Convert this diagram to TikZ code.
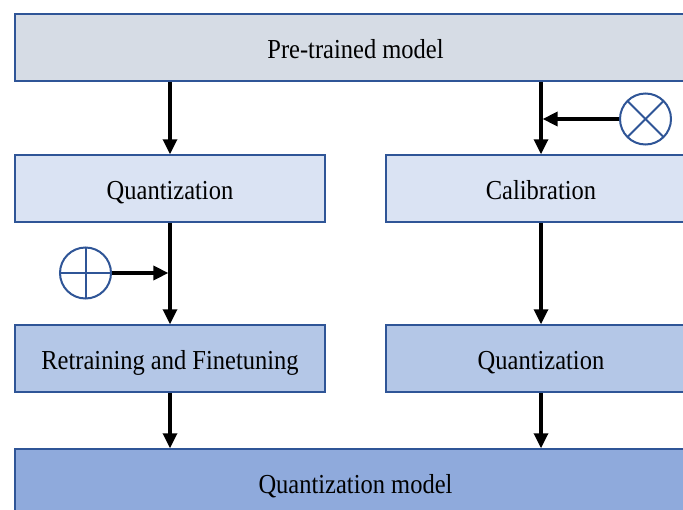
\documentclass[tikz,border=0pt]{standalone}
\usepackage{fontspec}
\setmainfont{Liberation Serif}
\usetikzlibrary{arrows.meta}
\definecolor{bd}{HTML}{2F5597}
\definecolor{f0}{HTML}{D6DCE5}
\definecolor{f1}{HTML}{DAE3F3}
\definecolor{f2}{HTML}{B4C7E7}
\definecolor{f3}{HTML}{8FAADC}
\newcommand{\lbl}[1]{\scalebox{1}[1.12]{#1}}
\tikzset{
  box/.style={draw=bd, line width=1.5pt, minimum height=67pt, inner sep=0pt,
    font=\fontsize{24.5}{28}\selectfont, text=black, text height=21pt, text depth=0pt},
  colbox/.style={box, minimum width=310pt},
  widebox/.style={box, minimum width=681pt},
  arr/.style={line width=3.3pt, -{Triangle[length=15pt,width=14pt]}},
  op/.style={circle, draw=bd, line width=2pt, minimum size=51pt, inner sep=0pt, fill=white},
}
\begin{document}
\begin{tikzpicture}[x=1pt,y=-1pt]
\useasboundingbox (0,0) rectangle (683,509);
\clip (0,0) rectangle (683,509);
\fill[white] (0,0) rectangle (683,509);
\node[widebox, fill=f0] (pre) at (355.5,47.5) {\lbl{Pre-trained model}};
\node[colbox, fill=f1] (q1) at (170,188.5) {\lbl{Quantization}};
\node[colbox, fill=f1] (cal) at (541,188.5) {\lbl{Calibration}};
\node[colbox, fill=f2] (rt) at (170,358.5) {\lbl{Retraining and Finetuning}};
\node[colbox, fill=f2] (q2) at (541,358.5) {\lbl{Quantization}};
\node[widebox, fill=f3] (qm) at (355.5,482.5) {\lbl{Quantization model}};
\node[op, path picture={
  \draw[bd, line width=2pt] (path picture bounding box.north west) -- (path picture bounding box.south east);
  \draw[bd, line width=2pt] (path picture bounding box.north east) -- (path picture bounding box.south west);
}] (ox) at (645.5,119) {};
\node[op, path picture={
  \draw[bd, line width=2pt] (path picture bounding box.north) -- (path picture bounding box.south);
  \draw[bd, line width=2pt] (path picture bounding box.west) -- (path picture bounding box.east);
}] (op) at (85.5,273) {};
\draw[arr] (pre.south -| q1.north) -- (q1.north);
\draw[arr] (pre.south -| cal.north) -- (cal.north);
\draw[arr] (q1.south) -- (rt.north);
\draw[arr] (cal.south) -- (q2.north);
\draw[arr] (rt.south) -- (rt.south |- qm.north);
\draw[arr] (q2.south) -- (q2.south |- qm.north);
\draw[arr] (ox.west) -- ([xshift=1.6pt]ox.west -| cal.north);
\draw[arr] (op.east) -- ([xshift=-1.6pt]op.east -| q1.south);
\end{tikzpicture}
\end{document}
